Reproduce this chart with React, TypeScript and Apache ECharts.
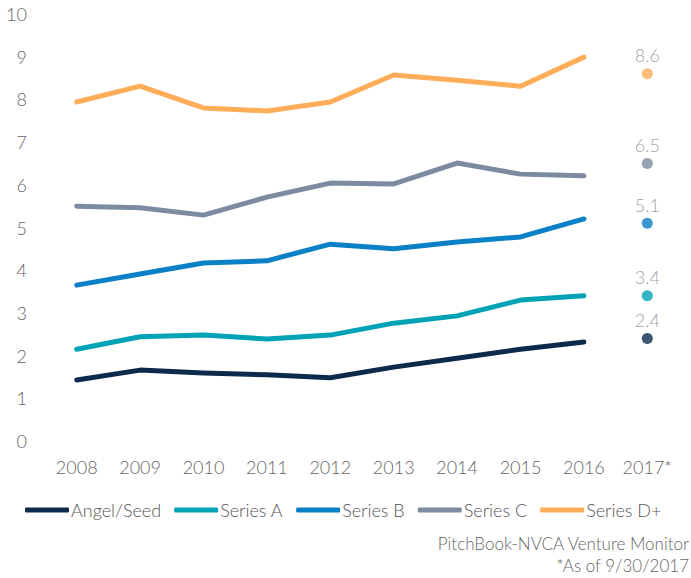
import React, { useEffect, useRef } from "react";
import * as echarts from "echarts";

const years = ["2008", "2009", "2010", "2011", "2012", "2013", "2014", "2015", "2016", "2017*"];
const seriesNames = ["Angel/Seed", "Series A", "Series B", "Series C", "Series D+"];
const colors = ["#0c2a4b", "#00a3b5", "#0a80c6", "#7c8ba1", "#ffad58"];

const angelSeed = [1.43, 1.66, 1.59, 1.55, 1.48, 1.73, 1.94, 2.15, 2.32];
const seriesA = [2.15, 2.44, 2.48, 2.39, 2.48, 2.76, 2.93, 3.3, 3.4];
const seriesB = [3.65, 3.91, 4.17, 4.22, 4.61, 4.5, 4.66, 4.78, 5.2];
const seriesC = [5.5, 5.46, 5.29, 5.71, 6.04, 6.02, 6.51, 6.25, 6.21];
const seriesD = [7.94, 8.31, 7.8, 7.73, 7.94, 8.57, 8.45, 8.31, 8.99];
const values2017 = [2.4, 3.4, 5.1, 6.5, 8.6];

const yTicks = [0, 10, 1];

const sourceLines = ["PitchBook-NVCA Venture Monitor", "*As of 9/30/2017"];

export default function App() {
  const ref = useRef<HTMLDivElement>(null);
  useEffect(() => {
    if (!ref.current) return;
    const chart = echarts.init(ref.current, undefined, { renderer: "svg" });
    const lineData = [angelSeed, seriesA, seriesB, seriesC, seriesD];
    const font = "Lato, 'Noto Sans', sans-serif";
    const series: any[] = [];
    lineData.forEach((d, i) => {
      series.push({
        name: seriesNames[i],
        type: "line",
        data: [...d, null],
        showSymbol: false,
        symbol: "none",
        lineStyle: { width: 5, color: colors[i], cap: "round", join: "round" },
        itemStyle: { color: colors[i] },
        z: 2 + i,
      });
    });
    lineData.forEach((_, i) => {
      const data: any[] = years.map(() => null);
      data[years.length - 1] = values2017[i];
      series.push({
        name: seriesNames[i],
        type: "scatter",
        data,
        symbol: "circle",
        symbolSize: 11,
        itemStyle: { color: colors[i] },
        label: {
          show: true,
          position: "top",
          distance: 4,
          color: "#888",
          fontFamily: font,
          fontWeight: 300,
          fontSize: 18,
          formatter: (p: any) => Number(p.value).toFixed(1),
        },
      });
    });
    chart.setOption({
      animation: false,
      textStyle: { fontFamily: font },
      grid: { left: 45, right: 12, top: 14, bottom: 137, containLabel: false },
      xAxis: {
        type: "category",
        data: years,
        boundaryGap: true,
        axisLine: { show: false },
        axisTick: { show: false },
        splitLine: { show: false },
        axisLabel: { color: "#666", fontSize: 18, fontWeight: 300, margin: 17, interval: 0, fontFamily: font },
      },
      yAxis: {
        type: "value",
        min: yTicks[0],
        max: yTicks[1],
        interval: yTicks[2],
        axisLine: { show: false },
        axisTick: { show: false },
        splitLine: { show: false },
        axisLabel: { color: "#666", fontSize: 18, fontWeight: 300, margin: 18, fontFamily: font },
      },
      legend: {
        data: seriesNames.map((n, i) => ({ name: n, icon: "roundRect", itemStyle: { color: colors[i] } })),
        left: 20,
        top: 496,
        itemWidth: 44,
        itemHeight: 5,
        itemGap: 13,
        textStyle: { color: "#555", fontSize: 18, fontWeight: 300, fontFamily: font, padding: [0, 0, 0, -3] },
      },
      graphic: [
        {
          type: "text",
          x: 689,
          y: 543,
          style: {
            text: sourceLines[0],
            fill: "#666",
            fontSize: 17,
            fontWeight: 300,
            fontFamily: font,
            align: "right",
            verticalAlign: "middle",
          },
        },
        {
          type: "text",
          x: 689,
          y: 565,
          style: {
            text: sourceLines[1],
            fill: "#666",
            fontSize: 17,
            fontWeight: 300,
            fontFamily: font,
            align: "right",
            verticalAlign: "middle",
          },
        },
      ],
      series,
    });
    return () => chart.dispose();
  }, []);
  return <div ref={ref} style={{ position: "absolute", left: 0, top: 0, width: 691, height: 578 }} />;
}
